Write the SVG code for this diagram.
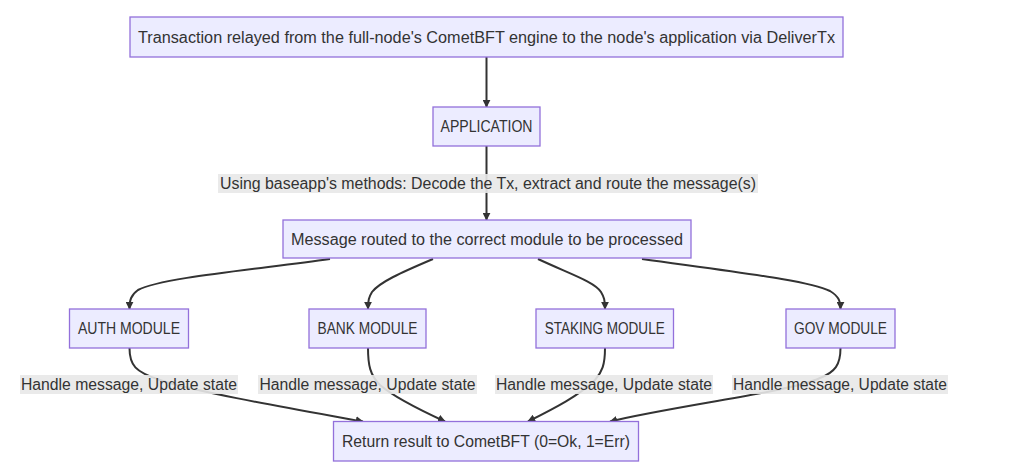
<svg xmlns="http://www.w3.org/2000/svg" width="1029" height="472" viewBox="0 0 1029 472">
<style>
.node rect{fill:#ECECFF;stroke:#9370DB;stroke-width:1.3}
text{font-family:"Liberation Sans",Arial,sans-serif;font-size:16px;fill:#333;text-anchor:middle;dominant-baseline:central}
.edge{fill:none;stroke:#333;stroke-width:2;marker-end:url(#arr)}
.lbl rect{fill:#e8e8e8;opacity:0.9}
</style>
<defs>
<marker id="arr" viewBox="0 0 10 10" refX="9" refY="5" markerWidth="8" markerHeight="8" markerUnits="userSpaceOnUse" orient="auto">
<path d="M0,0 L10,5 L0,10 z" fill="#333"/>
</marker>
</defs>
<g id="connectors">
<path class="edge" d="M486.5,57 L486.5,107"/>
<path class="edge" d="M486.5,146 L486.5,220"/>
<path class="edge" d="M330,259 C250,270 160,278 138,290 C131,295 129.5,300 129.5,309"/>
<path class="edge" d="M433,259 C400,273 380,282 372,292 C369,297 368,300 368,309"/>
<path class="edge" d="M538,259 C570,274 595,282 601,292 C604,297 605,300 605,309"/>
<path class="edge" d="M642,259 C750,274 810,281 830,291 C838,296 840.5,300 840.5,309"/>
<path class="edge" d="M129.5,348 C129.5,365 135,372 160,380 C200,393 300,410 363,421.5"/>
<path class="edge" d="M368,348 C368,365 370,375 380,385 C395,398 420,410 445,421.5"/>
<path class="edge" d="M605,348 C605,365 602,372 595,380 C580,395 555,408 528,421.5"/>
<path class="edge" d="M840.5,348 C840.5,365 835,372 820,378 C790,392 680,405 610,421.5"/>
<g class="lbl">
<rect x="218" y="174" width="540" height="19"/>
<text x="488" y="183.5" textLength="536" lengthAdjust="spacingAndGlyphs">Using baseapp's methods: Decode the Tx, extract and route the message(s)</text>
</g>
<g class="lbl">
<rect x="20" y="375" width="218" height="19"/>
<text x="129" y="384.5" textLength="216" lengthAdjust="spacingAndGlyphs">Handle message, Update state</text>
</g>
<g class="lbl">
<rect x="258" y="375" width="219" height="19"/>
<text x="367.5" y="384.5" textLength="216" lengthAdjust="spacingAndGlyphs">Handle message, Update state</text>
</g>
<g class="lbl">
<rect x="495" y="375" width="218" height="19"/>
<text x="604" y="384.5" textLength="216" lengthAdjust="spacingAndGlyphs">Handle message, Update state</text>
</g>
<g class="lbl">
<rect x="732" y="375" width="216" height="19"/>
<text x="840" y="384.5" textLength="214" lengthAdjust="spacingAndGlyphs">Handle message, Update state</text>
</g>
</g>
<g id="n_tx" class="node"><rect x="130" y="17" width="713" height="40"/><text x="486.5" y="37" textLength="697" lengthAdjust="spacingAndGlyphs">Transaction relayed from the full-node's CometBFT engine to the node's application via DeliverTx</text></g>
<g id="n_app" class="node"><rect x="433" y="107" width="107" height="39"/><text x="486.5" y="126.5" textLength="92" lengthAdjust="spacingAndGlyphs">APPLICATION</text></g>
<g id="n_msg" class="node"><rect x="283" y="220" width="408" height="38"/><text x="487" y="239" textLength="392" lengthAdjust="spacingAndGlyphs">Message routed to the correct module to be processed</text></g>
<g id="n_auth" class="node"><rect x="69.5" y="309" width="119" height="39"/><text x="129" y="328.5" textLength="102" lengthAdjust="spacingAndGlyphs">AUTH MODULE</text></g>
<g id="n_bank" class="node"><rect x="309" y="309" width="117" height="39"/><text x="367.5" y="328.5" textLength="100" lengthAdjust="spacingAndGlyphs">BANK MODULE</text></g>
<g id="n_staking" class="node"><rect x="536" y="309" width="137.5" height="39"/><text x="604.7" y="328.5" textLength="120" lengthAdjust="spacingAndGlyphs">STAKING MODULE</text></g>
<g id="n_gov" class="node"><rect x="786" y="309" width="109" height="39"/><text x="840.5" y="328.5" textLength="93" lengthAdjust="spacingAndGlyphs">GOV MODULE</text></g>
<g id="n_ret" class="node"><rect x="333.5" y="421.5" width="305" height="39.5"/><text x="486" y="441" textLength="288" lengthAdjust="spacingAndGlyphs">Return result to CometBFT (0=Ok, 1=Err)</text></g>
</svg>
